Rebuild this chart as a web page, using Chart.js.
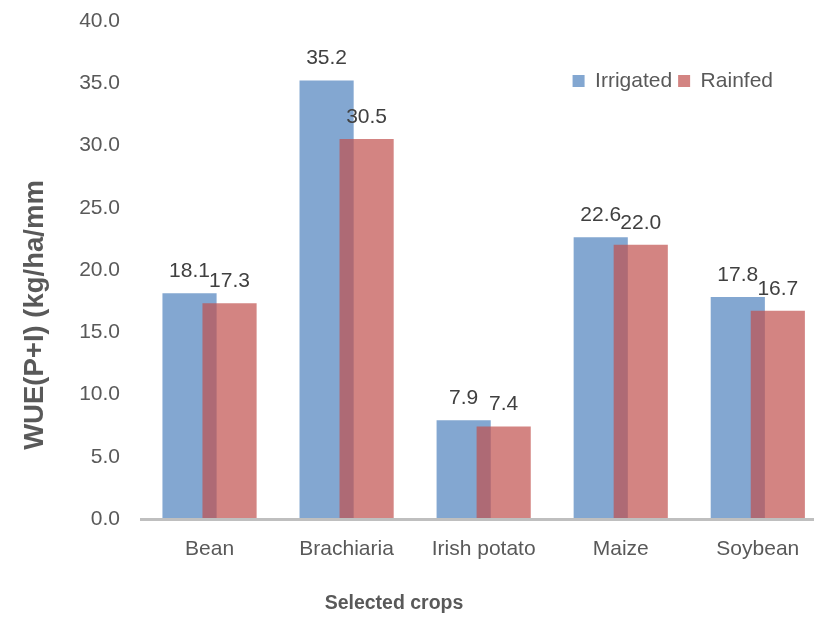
<!DOCTYPE html>
<html>
<head>
<meta charset="utf-8">
<script src="https://cdn.jsdelivr.net/npm/chart.js@4.4.1/dist/chart.umd.min.js"></script>
<style>
  html, body { margin: 0; padding: 0; background: #fff; }
  #wrap { width: 814px; height: 618px; }
</style>
</head>
<body>
<div id="wrap"><canvas id="myChart" width="814" height="618"></canvas></div>
<script>
var crops = ['Bean', 'Brachiaria', 'Irish potato', 'Maize', 'Soybean'];
var irrigated = [18.1, 35.2, 7.9, 22.6, 17.8];
var rainfed = [17.3, 30.5, 7.4, 22.0, 16.7];
var yTicks = [0, 5, 10, 15, 20, 25, 30, 35, 40];

var sans = "'Liberation Sans', Arial, sans-serif";
var grey = '#595959';

// the two bars of a crop overlap, each sits a bit off the category centre
var shift = 0.146;

function points(values, dx) {
  return values.map(function(v, i) { return { x: i + dx, y: v }; });
}

// legend sits inside the plot, so it takes no room in the layout
var legendInPlot = {
  id: 'legendInPlot',
  beforeUpdate: function(chart) {
    var legend = chart.legend;
    if (legend && !legend._inPlot) {
      var fit = legend.fit;
      legend.fit = function() { fit.call(this); this.height = 0; };
      legend._inPlot = true;
    }
  },
  beforeDraw: function(chart) {
    var legend = chart.legend;
    legend.left = 0;
    legend.right = 779;
    legend.top = 64.5;
    legend.bottom = 112;
  }
};

var valueLabels = {
  id: 'valueLabels',
  afterDatasetsDraw: function(chart) {
    var ctx = chart.ctx;
    ctx.save();
    ctx.font = '21px ' + sans;
    ctx.fillStyle = '#404040';
    ctx.textAlign = 'center';
    ctx.textBaseline = 'alphabetic';
    chart.data.datasets.forEach(function(ds, d) {
      chart.getDatasetMeta(d).data.forEach(function(bar, i) {
        ctx.fillText(ds.data[i].y.toFixed(1), bar.x, bar.y - 16.5);
      });
    });
    ctx.restore();
  }
};

var axisTitles = {
  id: 'axisTitles',
  afterDraw: function(chart) {
    var ctx = chart.ctx;
    ctx.save();
    ctx.fillStyle = grey;
    ctx.textAlign = 'center';
    ctx.textBaseline = 'middle';
    ctx.font = 'bold 19.5px ' + sans;
    ctx.fillText('Selected crops', 394, 604);
    ctx.translate(35, 315);
    ctx.rotate(-Math.PI / 2);
    ctx.font = 'bold 27.5px ' + sans;
    ctx.fillText('WUE(P+I) (kg/ha/mm', 0, 0);
    ctx.restore();
  }
};

var ctx = document.getElementById('myChart');
var myChart = new Chart(ctx, {
  type: 'bar',
  data: {
    datasets: [{
      label: 'Irrigated',
      data: points(irrigated, -shift),
      backgroundColor: 'rgba(79,129,189,0.7)',
      order: 1
    }, {
      label: 'Rainfed',
      data: points(rainfed, shift),
      backgroundColor: 'rgba(192,80,77,0.7)',
      order: 0
    }]
  },
  options: {
    responsive: false,
    animation: false,
    devicePixelRatio: 1,
    layout: { padding: { top: 21, left: 0, right: 0, bottom: 0 } },
    datasets: {
      bar: { grouped: false, barThickness: 53.5, borderWidth: 0 }
    },
    scales: {
      x: {
        type: 'linear',
        min: -0.5,
        max: 4.41,
        offset: false,
        grid: { display: false, drawTicks: false },
        border: { display: true, color: '#bfbfbf', width: 3, z: 1 },
        ticks: {
          color: grey,
          font: { family: sans, size: 21 },
          padding: 18,
          maxRotation: 0,
          autoSkip: false,
          callback: function(v) { return crops[v]; }
        },
        afterBuildTicks: function(s) {
          s.ticks = crops.map(function(c, i) { return { value: i }; });
        },
        afterFit: function(s) {
          s.height = 99;
          s.paddingLeft = 0;
          s.paddingRight = 0;
        }
      },
      y: {
        min: 0,
        max: 40,
        grid: { display: false, drawTicks: false },
        border: { display: false },
        ticks: {
          color: grey,
          font: { family: sans, size: 21 },
          padding: 21,
          callback: function(v) { return v.toFixed(1); }
        },
        afterBuildTicks: function(s) {
          s.ticks = yTicks.map(function(v) { return { value: v }; });
        },
        afterFit: function(s) {
          s.width = 141;
          s.paddingTop = 0;
          s.paddingBottom = 0;
        }
      }
    },
    plugins: {
      tooltip: { enabled: false },
      legend: {
        position: 'top',
        align: 'end',
        labels: {
          boxWidth: 12,
          boxHeight: 12,
          padding: 6,
          color: grey,
          font: { family: sans, size: 21 },
          sort: function(a, b) { return a.datasetIndex - b.datasetIndex; }
        }
      }
    }
  },
  plugins: [legendInPlot, valueLabels, axisTitles]
});
</script>
</body>
</html>
